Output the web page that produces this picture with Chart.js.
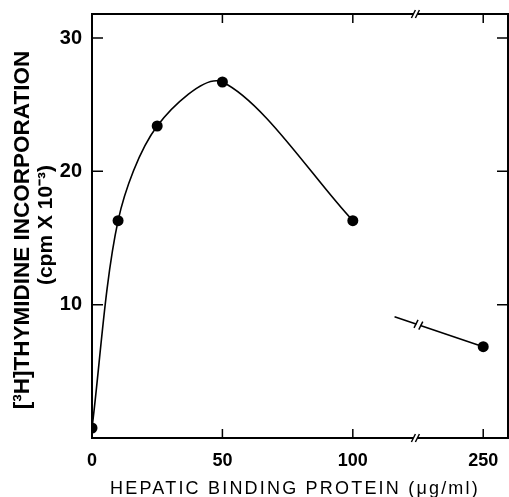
<!DOCTYPE html>
<html lang="en">
<head>
<meta charset="UTF-8">
<title>[3H]Thymidine incorporation vs hepatic binding protein</title>
<style>
  html, body { margin: 0; padding: 0; background: #fff; }
  #wrap { width: 509px; height: 497px; }
</style>
</head>
<body>
<div id="wrap"><canvas id="chart" width="509" height="497"></canvas></div>
<script src="https://cdn.jsdelivr.net/npm/chart.js"></script>
<script>
// hepatic binding protein (ug/ml) vs incorporation (cpm x 10^-3)
const doses = [0, 10, 25, 50, 100];
const counts = [0.75, 16.3, 23.4, 26.7, 16.3];
// part after the axis break; 250 ug/ml sits at axis position 150
const brokenX = [116, 150];
const brokenY = [9.1, 6.85];
const xTickPos = [0, 50, 100, 150];
const xTickLabels = ['0', '50', '100', '250'];
const yTicks = [10, 20, 30];
const breakAt = 124;
const xTitle = 'HEPATIC BINDING PROTEIN (\u03bcg/ml)';
const yTitle = ['[\u00b3H]THYMIDINE INCORPORATION', '(cpm X 10\u207b\u00b3)'];

const narrowBold = "'Liberation Sans Narrow', 'Liberation Sans', sans-serif";

function slash(ctx, cx, cy) {
    ctx.beginPath();
    ctx.moveTo(cx - 2, cy + 4);
    ctx.lineTo(cx + 2, cy - 4);
    ctx.stroke();
}

const frame = {
    id: 'frame',
    afterDatasetsDraw(chart) {
        const { ctx, chartArea: a, scales: { x, y } } = chart;
        ctx.save();
        ctx.strokeStyle = '#000';
        ctx.lineWidth = 2;
        ctx.beginPath();
        ctx.moveTo(a.left, a.top);
        ctx.lineTo(a.right, a.top);
        ctx.lineTo(a.right, a.bottom);
        ctx.stroke();

        // inward tick marks
        ctx.lineWidth = 1.5;
        ctx.beginPath();
        xTickPos.slice(1).forEach(v => {
            const px = x.getPixelForValue(v);
            ctx.moveTo(px, a.bottom); ctx.lineTo(px, a.bottom - 9);
            ctx.moveTo(px, a.top); ctx.lineTo(px, a.top + 9);
        });
        yTicks.forEach(v => {
            const py = y.getPixelForValue(v);
            ctx.moveTo(a.left, py); ctx.lineTo(a.left + 11, py);
            ctx.moveTo(a.right, py); ctx.lineTo(a.right - 11, py);
        });
        ctx.stroke();

        // axis breaks
        const bx = x.getPixelForValue(breakAt);
        [a.top, a.bottom].forEach(yy => {
            ctx.fillStyle = '#fff';
            ctx.fillRect(bx - 2, yy - 2, 4, 4);
            slash(ctx, bx - 2, yy);
            slash(ctx, bx + 2, yy);
        });

        // break on the line segment
        const x0 = x.getPixelForValue(brokenX[0]), y0 = y.getPixelForValue(brokenY[0]);
        const x1 = x.getPixelForValue(brokenX[1]), y1 = y.getPixelForValue(brokenY[1]);
        const mx = bx + 3;
        const my = y0 + (y1 - y0) * (mx - x0) / (x1 - x0);
        const len = Math.hypot(x1 - x0, y1 - y0);
        const ux = (x1 - x0) / len, uy = (y1 - y0) / len;
        ctx.fillStyle = '#fff';
        ctx.beginPath();
        ctx.arc(mx, my, 2.2, 0, Math.PI * 2);
        ctx.fill();
        slash(ctx, mx - 2.5 * ux, my - 2.5 * uy);
        slash(ctx, mx + 2.5 * ux, my + 2.5 * uy);

        // axis titles
        ctx.fillStyle = '#000';
        ctx.textAlign = 'center';
        ctx.textBaseline = 'middle';
        ctx.letterSpacing = '2.2px';
        ctx.font = "18px 'Liberation Sans', sans-serif";
        ctx.fillText(xTitle, (a.left + a.right) / 2 - 5, 489);
        ctx.letterSpacing = '0px';

        ctx.translate(0, (a.top + a.bottom) / 2);
        ctx.rotate(-Math.PI / 2);
        ctx.font = "bold 22.5px 'Liberation Sans', sans-serif";
        ctx.fillText(yTitle[0], -4, 23);
        ctx.font = "bold 21px 'Liberation Sans', sans-serif";
        ctx.fillText(yTitle[1], 1, 46);
        ctx.restore();
    }
};

new Chart(document.getElementById('chart'), {
    type: 'scatter',
    data: {
        datasets: [{
            data: doses.map((d, i) => ({ x: d, y: counts[i] })),
            showLine: true,
            tension: 0.3,
            borderColor: '#000',
            borderWidth: 1.6,
            backgroundColor: '#000',
            pointRadius: 5.5,
            pointBorderWidth: 0
        }, {
            data: brokenX.map((d, i) => ({ x: d, y: brokenY[i] })),
            showLine: true,
            borderColor: '#000',
            borderWidth: 1.6,
            backgroundColor: '#000',
            pointRadius: [0, 5.5],
            pointBorderWidth: 0
        }]
    },
    options: {
        responsive: false,
        animation: false,
        layout: { autoPadding: false, padding: { top: 14, right: 1, left: 0, bottom: 0 } },
        plugins: { legend: { display: false }, tooltip: { enabled: false } },
        scales: {
            x: {
                type: 'linear',
                min: 0,
                max: 159.5,
                afterBuildTicks: s => { s.ticks = xTickPos.map(v => ({ value: v })); },
                afterFit: s => { s.height = 59; s.paddingLeft = 0; s.paddingRight = 0; },
                grid: { display: false, drawTicks: false },
                border: { display: true, color: '#000', width: 2 },
                ticks: {
                    color: '#000',
                    font: { family: narrowBold, size: 18, weight: 'bold' },
                    padding: 12,
                    maxRotation: 0,
                    callback: v => xTickLabels[xTickPos.indexOf(v)]
                }
            },
            y: {
                min: 0,
                max: 31.8,
                afterBuildTicks: s => { s.ticks = yTicks.map(v => ({ value: v })); },
                afterFit: s => { s.width = 92; s.paddingTop = 0; s.paddingBottom = 0; },
                grid: { display: false, drawTicks: false },
                border: { display: true, color: '#000', width: 2 },
                ticks: { color: '#000', font: { family: narrowBold, size: 20, weight: 'bold' }, padding: 10 }
            }
        }
    },
    plugins: [frame]
});
</script>
</body>
</html>
